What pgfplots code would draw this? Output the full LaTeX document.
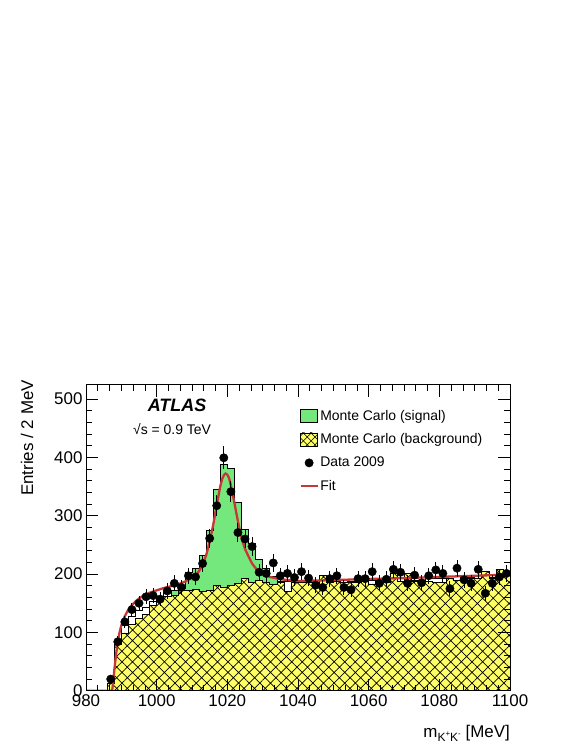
\documentclass[border=0pt]{standalone}
\usepackage{fontspec}
\setmainfont{Liberation Sans}
\usepackage{pgfplots}
\pgfplotsset{compat=1.18}
\usepackage{pgfplotstable}
\usetikzlibrary{patterns.meta}

\definecolor{sigGreen}{RGB}{117,232,125}
\definecolor{bkgYellow}{RGB}{255,255,102}
\definecolor{fitRed}{RGB}{200,55,55}

\pgfplotstableread{
x B T G
980 0 0 0
982 0 0 0
984 0 0 0
986 12 12 0
988 80 80 0
990 99 112 0
992 114 128 0
994 124 138 0
996 131 143 0
998 146 153 0
1000 155 162 0
1002 161 168 0
1004 163 172 172
1006 172 175 175
1008 172 203 203
1010 173 209 209
1012 171 232 232
1014 172 274 274
1016 180 345 345
1018 178 388 388
1020 180 381 381
1022 184 322 322
1024 193 277 277
1026 185 252 252
1028 190 225 225
1030 185 210 210
1032 182 196 196
1034 185 188 0
1036 170 187 0
1038 186 188 0
1040 185 187 0
1042 186 187 0
1044 184 186 0
1046 197 197 0
1048 185 186 0
1050 187 188 0
1052 185 186 0
1054 186 187 0
1056 185 186 0
1058 187 188 0
1060 183 190 0
1062 185 186 0
1064 186 187 0
1066 201 201 0
1068 187 188 0
1070 201 201 0
1072 188 189 0
1074 188 189 0
1076 188 197 0
1078 185 192 0
1080 185 192 0
1082 192 192 0
1084 189 190 0
1086 190 196 0
1088 193 194 0
1090 192 193 0
1092 204 204 0
1094 193 194 0
1096 208 208 0
1098 204 204 0
1100 204 204 0
}\histtab

\pgfplotstableread{
x y e
987 20 4.5
989 84 9.2
991 118 10.9
993 139 11.8
995 150 12.2
997 161 12.7
999 163 12.8
1001 157 12.5
1003 171 13.1
1005 184 13.6
1007 177 13.3
1009 197 14.0
1011 195 14.0
1013 218 14.8
1015 261 16.2
1017 317 17.8
1019 399 20.0
1021 341 18.5
1023 271 16.5
1025 260 16.1
1027 247 15.7
1029 203 14.2
1031 201 14.2
1033 219 14.8
1035 197 14.0
1037 201 14.2
1039 194 13.9
1041 204 14.3
1043 193 13.9
1045 181 13.5
1047 177 13.3
1049 192 13.9
1051 197 14.0
1053 177 13.3
1055 173 13.2
1057 192 13.9
1059 192 13.9
1061 204 14.3
1063 184 13.6
1065 191 13.8
1067 208 14.4
1069 203 14.2
1071 184 13.6
1073 198 14.1
1075 185 13.6
1077 197 14.0
1079 207 14.4
1081 201 14.2
1083 175 13.2
1085 210 14.5
1087 190 13.8
1089 184 13.6
1091 208 14.4
1093 167 12.9
1095 184 13.6
1097 195 14.0
1099 201 14.2
}\datatab

\begin{document}
\begin{tikzpicture}
\useasboundingbox (0,0) rectangle (581bp,752bp);
\begin{axis}[
  at={(86bp,61.2bp)}, anchor=south west,
  scale only axis, width=424bp, height=306bp,
  xmin=980, xmax=1100, ymin=0, ymax=524,
  xtick={980,1000,...,1100}, ytick={0,100,...,500},
  minor x tick num=5, minor y tick num=4,
  tick align=inside,
  major tick length=12bp, minor tick length=6bp,
  axis line style={line width=0.8bp},
  every tick/.style={black, line width=0.6bp},
  tick label style={font=\fontsize{17}{17}\selectfont},
  /pgf/number format/assume math mode=true,
  /pgf/number format/1000 sep={},
  axis on top,
  xlabel={m\raisebox{-0.45ex}{\fontsize{12}{12}\selectfont K\raisebox{0.85ex}{\fontsize{8}{8}\selectfont +}K\raisebox{0.85ex}{\fontsize{8}{8}\selectfont -}} [MeV]},
  xlabel style={at={(axis description cs:1,-0.154)}, anchor=base east, inner sep=0pt, font=\fontsize{17}{17}\selectfont},
  ylabel={Entries / 2 MeV},
  ylabel style={at={(axis description cs:-0.139,1.016)}, anchor=east, inner sep=0pt, font=\fontsize{17}{17}\selectfont},
  legend style={at={(axis description cs:0.503,0.923)}, anchor=north west, draw=none, fill=none,
    font=\fontsize{14}{14}\selectfont, row sep=9bp, inner sep=0pt, nodes={inner sep=1.5bp}},
  legend cell align=left,
]
\addplot[const plot mark left, fill=white, draw=black, line width=0.6bp, forget plot]
  table[x=x,y=T]{\histtab} \closedcycle;
\addplot[const plot mark left, fill=sigGreen, draw=black, line width=0.6bp, forget plot]
  table[x=x,y=G]{\histtab} \closedcycle;
\addplot[const plot mark left, fill=bkgYellow, draw=black, line width=0.6bp, forget plot,
  postaction={pattern={Hatch[angle=45,distance=7.5bp,line width=0.7bp]}}]
  table[x=x,y=B]{\histtab} \closedcycle;

\addplot[fitRed, line width=2.3bp, forget plot] coordinates {
(980,0) (987.4,0) (987.7,15) (988,35) (988.5,62) (989,84) (989.5,100) (990,112)
(990.5,121) (991,128) (992,139) (993,147) (994,153) (995,158) (996,162) (997,165)
(998,168) (1000,172) (1002,176) (1004,179) (1006,182) (1008,187) (1009,190)
(1010,193) (1011,198) (1012,205) (1013,216) (1014,232) (1015,255) (1016,284)
(1017,318) (1018,350) (1018.5,362) (1019,369) (1019.5,372) (1020,370) (1020.5,364)
(1021,352) (1022,322) (1023,290) (1024,262) (1025,243) (1026,230) (1027,218)
(1028,210) (1029,203) (1030,199) (1032,195) (1035,191) (1040,188) (1050,189.5)
(1060,191.5) (1070,193) (1080,195) (1090,197) (1100,199)
};

\addplot[only marks, mark=*, mark size=4.2bp, black, forget plot,
  error bars/.cd, y dir=both, y explicit, error mark=none,
  error bar style={line width=0.9bp, black}]
  table[x=x,y=y,y error=e]{\datatab};

\addlegendimage{legend image code/.code={\draw[fill=sigGreen, draw=black, line width=0.6bp] (0bp,-6.5bp) rectangle (17bp,6.5bp);}}
\addlegendentry{Monte Carlo (signal)}
\addlegendimage{legend image code/.code={\draw[fill=bkgYellow, draw=black, line width=0.6bp, postaction={pattern={Hatch[angle=45,distance=5.5bp,line width=0.6bp]}}] (0bp,-6.5bp) rectangle (17bp,6.5bp);}}
\addlegendentry{Monte Carlo (background)}
\addlegendimage{legend image code/.code={\fill[black] (8.5bp,0bp) circle (4.2bp);}}
\addlegendentry{Data 2009}
\addlegendimage{legend image code/.code={\draw[fitRed, line width=2.3bp] (0bp,0bp) -- (17bp,0bp);}}
\addlegendentry{Fit}

\node[font=\bfseries\itshape\fontsize{18}{18}\selectfont] at (axis description cs:0.2146,0.934) {ATLAS};
\node[font=\fontsize{14}{14}\selectfont] at (axis description cs:0.203,0.856) {√s = 0.9 TeV};
\end{axis}
\end{tikzpicture}
\end{document}
